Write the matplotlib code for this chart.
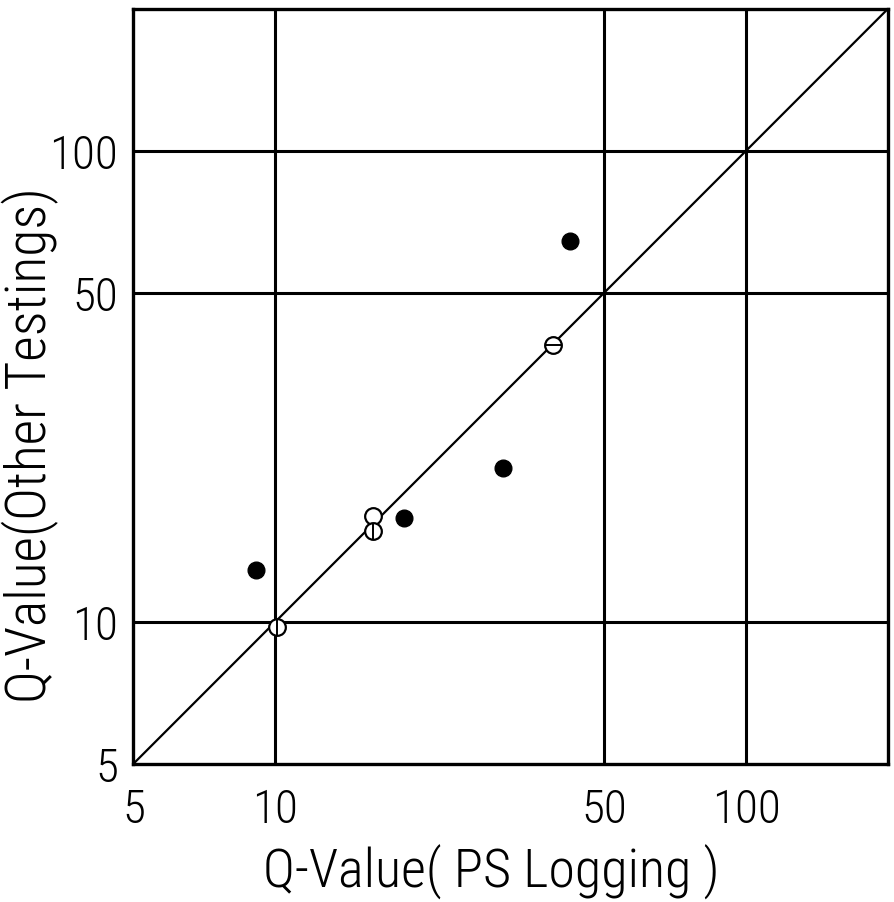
import matplotlib
matplotlib.use("Agg")
import matplotlib.pyplot as plt
from matplotlib import font_manager

# Q-values
filled_x = [9.1, 18.8, 30.4, 42.3]
filled_y = [12.9, 16.6, 21.2, 64.5]

open_x = [16.1]
open_y = [16.8]

theta_x = [38.9]          # circle with horizontal bar
theta_y = [38.7]

phi_x = [10.1, 16.1]      # circle with vertical bar
phi_y = [9.75, 15.6]

ticks = [5, 10, 50, 100]
grid_vals = [10, 50, 100]
lims = (5, 200)

# look for a narrow face, the scan uses a thin condensed lettering
narrow = None
for f in font_manager.fontManager.ttflist:
    fn = f.fname.lower()
    if ("condensed" in fn or "narrow" in fn) and "bold" not in fn and "oblique" not in fn and "italic" not in fn:
        if narrow is None or "light" in fn:
            narrow = f.fname
if narrow:
    fp = font_manager.FontProperties(fname=narrow)
else:
    fp = font_manager.FontProperties(family="DejaVu Sans")

fig = plt.figure(figsize=(8.95, 9.03), dpi=100)
ax = fig.add_axes([0.149, 0.153, 0.843, 0.836])
ax.set_xscale("log")
ax.set_yscale("log")
ax.set_xlim(*lims)
ax.set_ylim(*lims)

for v in grid_vals:
    ax.axvline(v, color="black", lw=2.2, zorder=1)
    ax.axhline(v, color="black", lw=2.2, zorder=1)
for s in ax.spines.values():
    s.set_linewidth(2.4)

ax.plot(lims, lims, color="black", lw=1.6, zorder=2)

mk = dict(linestyle="none", zorder=3)
ax.plot(filled_x, filled_y, marker="o", ms=12, color="black", **mk)
ax.plot(open_x, open_y, marker="o", ms=12, mfc="white", mec="black", mew=1.6, **mk)
ax.plot(theta_x, theta_y, marker="o", ms=12, mfc="white", mec="black", mew=1.6, **mk)
ax.plot(theta_x, theta_y, marker="_", ms=11, color="black", mew=1.4, zorder=4, linestyle="none")
ax.plot(phi_x, phi_y, marker="o", ms=12, mfc="white", mec="black", mew=1.6, **mk)
ax.plot(phi_x, phi_y, marker="|", ms=11, color="black", mew=1.4, zorder=4, linestyle="none")

ax.minorticks_off()
ax.set_xticks(ticks)
ax.set_yticks(ticks)
ax.set_xticklabels([str(t) for t in ticks], fontproperties=fp, fontsize=34)
ax.set_yticklabels([str(t) for t in ticks], fontproperties=fp, fontsize=34)
ax.tick_params(axis="x", length=0, pad=17)
ax.tick_params(axis="y", length=0, pad=11)

ax.set_xlabel("Q-Value( PS Logging )", fontproperties=fp, fontsize=39, va="center")
ax.set_ylabel("Q-Value(Other Testings)", fontproperties=fp, fontsize=40, va="center")
ax.xaxis.set_label_coords(0.475, -0.142)
ax.yaxis.set_label_coords(-0.136, 0.424)

fig.savefig("out.png", dpi=100)
